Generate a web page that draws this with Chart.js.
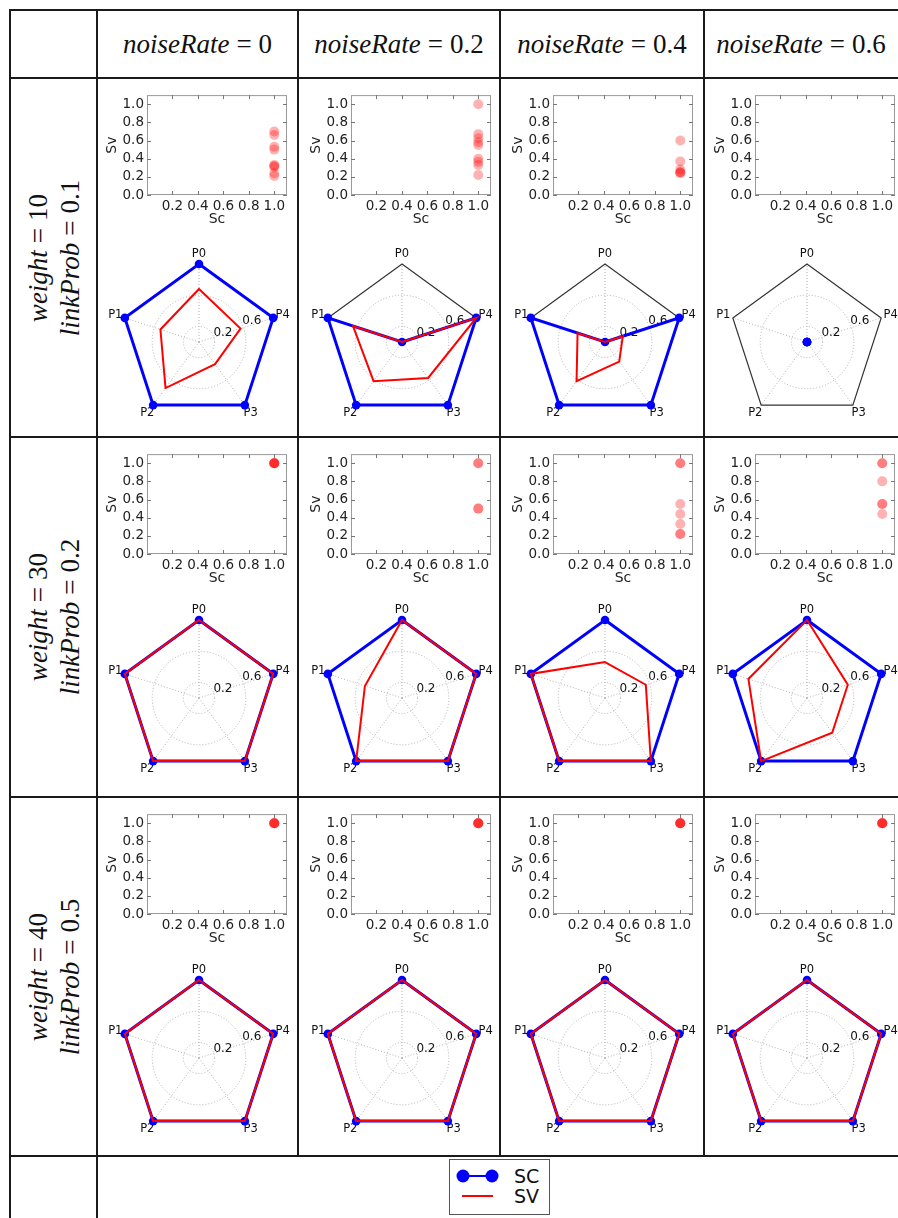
<!DOCTYPE html>
<html>
<head>
<meta charset="utf-8">
<script src="https://cdn.jsdelivr.net/npm/chart.js@4.4.1/dist/chart.umd.min.js"></script>
<style>
  body { margin: 0; background: #fff; width: 898px; height: 1218px; overflow: hidden; position: relative; font-family: "DejaVu Sans", sans-serif; }
  .ln { position: absolute; background: #1a1a1a; }
  canvas { position: absolute; }
  .hdr { position: absolute; top: 10px; height: 68px; display: flex; align-items: center; justify-content: center;
         font-family: "Liberation Serif", serif; font-size: 27px; color: #111; white-space: nowrap; }
  .rowlab { position: absolute; display: flex; flex-direction: column; align-items: center; justify-content: center;
            font-family: "Liberation Serif", serif; font-size: 27px; color: #111; line-height: 32px; white-space: nowrap;
            transform: rotate(-90deg); }
  .hdr i, .rowlab i { margin-right: 7px; }
  .eq { margin-right: 7px; }
</style>
</head>
<body>
<script>
// column / row headings
const noiseRates = ['0', '0.2', '0.4', '0.6'];
const weights = ['10', '30', '40'];
const linkProbs = ['0.1', '0.2', '0.5'];

// radar axes and ticks (P0 at top, then counter-clockwise)
const radarLabels = ['P0', 'P1', 'P2', 'P3', 'P4'];
const radarTicks = [0.2, 0.6];

// scatter ticks
const scatterXTicks = [0.2, 0.4, 0.6, 0.8, 1.0];
const scatterYTicks = [0.0, 0.2, 0.4, 0.6, 0.8, 1.0];

// radar SC values per cell (one list per noiseRate), rows = weight
const sc_w10 = [[1, 1, 1, 1, 1], [0, 1, 1, 1, 1], [0, 1, 1, 1, 1], [0, 0, 0, 0, 0]];
const sc_w30 = [[1, 1, 1, 1, 1], [1, 1, 1, 1, 1], [1, 1, 1, 1, 1], [1, 1, 1, 1, 1]];
const sc_w40 = [[1, 1, 1, 1, 1], [1, 1, 1, 1, 1], [1, 1, 1, 1, 1], [1, 1, 1, 1, 1]];

// radar SV values per cell
const sv_w10 = [[0.68, 0.52, 0.73, 0.35, 0.56], [0, 0.66, 0.62, 0.57, 1], [0, 0.37, 0.62, 0.31, 0.24], [0, 0, 0, 0, 0]];
const sv_w30 = [[1, 1, 1, 1, 1], [1, 0.5, 1, 1, 1], [0.46, 1, 1, 1, 0.55], [1, 0.79, 1, 0.55, 0.55]];
const sv_w40 = [[1, 1, 1, 1, 1], [1, 1, 1, 1, 1], [1, 1, 1, 1, 1], [1, 1, 1, 1, 1]];

// scatter points: all at Sc = 1.0, Sv values listed
const scPoint = 1.0;
const pts_w10 = [[0.70, 0.66, 0.53, 0.50, 0.33, 0.32, 0.31, 0.24, 0.21],
                 [1.0, 0.67, 0.625, 0.58, 0.55, 0.40, 0.365, 0.33, 0.22],
                 [0.60, 0.37, 0.28, 0.25, 0.25, 0.24],
                 []];
const pts_w30 = [[1, 1, 1, 1, 1], [1, 1, 0.5, 0.5], [1, 1, 0.55, 0.44, 0.33, 0.22, 0.22], [1, 1, 0.8, 0.55, 0.55, 0.44]];
const pts_w40 = [[1, 1, 1, 1, 1], [1, 1, 1, 1, 1], [1, 1, 1, 1, 1], [1, 1, 1, 1, 1]];

const scRows = [sc_w10, sc_w30, sc_w40];
const svRows = [sv_w10, sv_w30, sv_w40];
const ptRows = [pts_w10, pts_w30, pts_w40];

// Chart.js runs clockwise, the figure runs counter-clockwise
const drawOrder = [0, 4, 3, 2, 1];
const byOrder = arr => drawOrder.map(i => arr[i]);

// layout
const colX = [97, 298, 500, 704];
const rowY = [78, 437, 797, 1156];
const plotLeft = [147, 351, 553, 755];
const radarCx = [199, 402, 605, 807];
const radarCy = [342, 698, 1058];

Chart.defaults.font.family = '"DejaVu Sans", sans-serif';
Chart.defaults.color = '#222';

function line(x, y, w, h) {
  const d = document.createElement('div');
  d.className = 'ln';
  d.style.cssText = `left:${x}px;top:${y}px;width:${w}px;height:${h}px`;
  document.body.appendChild(d);
}
// table grid
[10, 78, 437, 797, 1156].forEach(y => line(10, y - 1, 888, 2));
[10, 97].forEach(x => line(x - 1, 9, 2, 1209));
[298, 500, 704].forEach(x => line(x - 1, 9, 2, 1148));

// headers
noiseRates.forEach((n, c) => {
  const d = document.createElement('div');
  d.className = 'hdr';
  d.style.left = colX[c] + 'px';
  d.style.width = ((c < 3 ? colX[c + 1] : 898) - colX[c]) + 'px';
  d.innerHTML = `<i>noiseRate</i><span class="eq">=</span>${n}`;
  document.body.appendChild(d);
});
weights.forEach((w, r) => {
  const d = document.createElement('div');
  d.className = 'rowlab';
  const h = rowY[r + 1] - rowY[r];
  d.style.cssText = `left:${53.5 - h / 2}px;top:${rowY[r] + h / 2 - 43}px;width:${h}px;height:86px`;
  d.innerHTML = `<div><i>weight</i><span class="eq">=</span>${w}</div><div><i>linkProb</i><span class="eq">=</span>${linkProbs[r]}</div>`;
  document.body.appendChild(d);
});

const boxPlugin = {
  id: 'box',
  afterDraw(chart) {
    const { ctx, chartArea: a, scales: { x, y } } = chart;
    ctx.save();
    ctx.strokeStyle = '#9a9a9a';
    ctx.lineWidth = 1;
    ctx.strokeRect(a.left + 0.5, a.top + 0.5, a.width - 1, a.height - 1);
    ctx.strokeStyle = '#777';
    ctx.beginPath();
    scatterXTicks.forEach(v => {
      const px = Math.round(x.getPixelForValue(v)) + 0.5;
      ctx.moveTo(px, a.bottom); ctx.lineTo(px, a.bottom - 4);
      ctx.moveTo(px, a.top); ctx.lineTo(px, a.top + 4);
    });
    scatterYTicks.forEach(v => {
      const py = Math.round(y.getPixelForValue(v)) + 0.5;
      ctx.moveTo(a.left, py); ctx.lineTo(a.left + 4, py);
      ctx.moveTo(a.right, py); ctx.lineTo(a.right - 4, py);
    });
    ctx.stroke();
    ctx.restore();
  }
};

const radarDecor = {
  id: 'radarDecor',
  beforeDatasetsDraw(chart) {
    const s = chart.scales.r, ctx = chart.ctx;
    const labels = chart.data.labels;
    ctx.save();
    // polygon frame at max value
    ctx.beginPath();
    labels.forEach((_, i) => {
      const p = s.getPointPositionForValue(i, s.max);
      if (i) ctx.lineTo(p.x, p.y); else ctx.moveTo(p.x, p.y);
    });
    ctx.closePath();
    ctx.strokeStyle = '#333';
    ctx.lineWidth = 1.2;
    ctx.stroke();
    // radial tick labels at 22.5 degrees
    ctx.fillStyle = '#111';
    ctx.font = '12px "DejaVu Sans"';
    ctx.textAlign = 'left';
    ctx.textBaseline = 'alphabetic';
    const a = 22.5 * Math.PI / 180;
    radarTicks.forEach(v => {
      const d = s.getDistanceFromCenterForValue(v);
      ctx.fillText(v.toFixed(1), s.xCenter + d * Math.cos(a), s.yCenter - d * Math.sin(a));
    });
    // point labels
    ctx.font = '11.5px "DejaVu Sans"';
    ctx.textAlign = 'center';
    ctx.textBaseline = 'middle';
    labels.forEach((l, i) => {
      const p = s.getPointPosition(i, s.drawingArea + 10);
      ctx.fillText(l, p.x, p.y);
    });
    ctx.restore();
  }
};

function addCanvas(x, y, w, h) {
  const cv = document.createElement('canvas');
  cv.width = w; cv.height = h;
  cv.style.left = x + 'px'; cv.style.top = y + 'px';
  cv.style.width = w + 'px'; cv.style.height = h + 'px';
  document.body.appendChild(cv);
  return cv;
}

const tickFont = { size: 13.5 };
for (let r = 0; r < 3; r++) {
  for (let c = 0; c < 4; c++) {
    // scatter Sv vs Sc
    const plotTop = rowY[r] + 11.5;
    const cv = addCanvas(plotLeft[c] - 46, plotTop - 6, 192, 153);
    new Chart(cv, {
      type: 'scatter',
      data: {
        datasets: [{
          data: ptRows[r][c].map(v => ({ x: scPoint, y: v })),
          backgroundColor: 'rgba(255,0,0,0.3)',
          borderWidth: 0,
          pointRadius: 5,
          pointHoverRadius: 5,
          clip: false
        }]
      },
      options: {
        responsive: false,
        animation: false,
        events: [],
        layout: { padding: { top: 6, right: 6, bottom: 6, left: 0 } },
        plugins: { legend: { display: false }, tooltip: { enabled: false } },
        scales: {
          x: {
            type: 'linear', min: 0, max: 1.1,
            afterBuildTicks: s => { s.ticks = scatterXTicks.map(v => ({ value: v })); },
            afterFit: s => { s.height = 36; },
            grid: { display: false, drawTicks: false },
            border: { display: false },
            ticks: { font: tickFont, color: '#222', padding: 3, maxRotation: 0, autoSkip: false, callback: v => v.toFixed(1) },
            title: { display: true, text: 'Sc', font: { size: 14 }, color: '#222', padding: { top: 0, bottom: 3 } }
          },
          y: {
            type: 'linear', min: 0, max: 1.1,
            afterBuildTicks: s => { s.ticks = scatterYTicks.map(v => ({ value: v })); },
            afterFit: s => { s.width = 46; },
            grid: { display: false, drawTicks: false },
            border: { display: false },
            ticks: { font: tickFont, color: '#222', padding: 3, autoSkip: false, callback: v => v.toFixed(1) },
            title: { display: true, text: 'Sv', font: { size: 14 }, color: '#222', padding: { top: 3, bottom: 3 } }
          }
        }
      },
      plugins: [boxPlugin]
    });

    // radar SC / SV
    const rv = addCanvas(radarCx[c] - 100, radarCy[r] - 100, 200, 200);
    new Chart(rv, {
      type: 'radar',
      data: {
        labels: byOrder(radarLabels),
        datasets: [{
          label: 'SC',
          data: byOrder(scRows[r][c]),
          borderColor: '#0000ff',
          borderWidth: 3,
          backgroundColor: 'rgba(0,0,0,0)',
          fill: false,
          pointRadius: 4.3,
          pointBackgroundColor: '#0000ff',
          pointBorderWidth: 0,
          clip: false,
          order: 2
        }, {
          label: 'SV',
          data: byOrder(svRows[r][c]),
          borderColor: '#ff0000',
          borderWidth: 2,
          backgroundColor: 'rgba(0,0,0,0)',
          fill: false,
          pointRadius: 0,
          clip: false,
          order: 1
        }]
      },
      options: {
        responsive: false,
        animation: false,
        events: [],
        layout: { padding: 22 },
        elements: { line: { tension: 0 } },
        plugins: { legend: { display: false }, tooltip: { enabled: false } },
        scales: {
          r: {
            min: 0, max: 1,
            ticks: { stepSize: 0.2, display: false },
            pointLabels: { display: false },
            angleLines: { color: '#b0b0b0', lineWidth: 1, borderDash: [1, 2] },
            grid: {
              circular: true,
              lineWidth: 1,
              color: ctx => radarTicks.some(t => Math.abs(t - ctx.tick.value) < 1e-6) ? '#b0b0b0' : 'rgba(0,0,0,0)'
            },
            border: { dash: [1, 2] }
          }
        }
      },
      plugins: [radarDecor]
    });
  }
}

// legend
const lg = document.createElement('div');
lg.style.cssText = 'position:absolute;left:449px;top:1159px;width:101px;height:56px;border:1px solid #555;box-sizing:border-box;background:#fff';
lg.innerHTML = `<svg width="101" height="56" style="position:absolute;left:-1px;top:-1px">
  <line x1="14" y1="17" x2="43" y2="17" stroke="#0000ff" stroke-width="2"/>
  <circle cx="14" cy="17" r="6.5" fill="#0000ff"/>
  <circle cx="43" cy="17" r="6.5" fill="#0000ff"/>
  <line x1="13" y1="37" x2="44" y2="37" stroke="#ff0000" stroke-width="2"/>
  <text x="65" y="24" font-family="DejaVu Sans" font-size="19" fill="#111">SC</text>
  <text x="65" y="44" font-family="DejaVu Sans" font-size="19" fill="#111">SV</text>
</svg>`;
document.body.appendChild(lg);
</script>
</body>
</html>
